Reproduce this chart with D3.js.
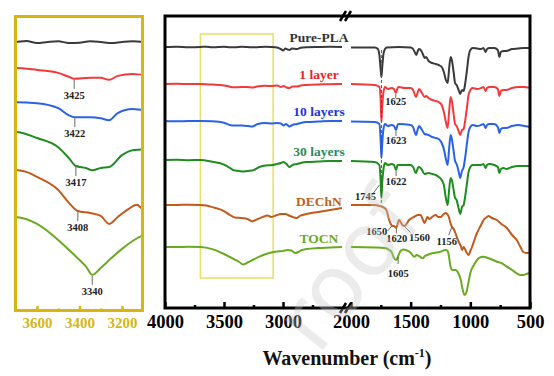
<!DOCTYPE html>
<html>
<head>
<meta charset="utf-8">
<script src="https://cdn.jsdelivr.net/npm/d3@7"></script>
<style>
  body { margin: 0; background: #fff; }
  text { font-family: "Times New Roman", "Liberation Serif", serif; font-weight: bold; }
</style>
</head>
<body>
<div id="chart"></div>
<script>
// series names, offsets (a.u.) and spectra as [wavenumber, relative transmittance]
const seriesNames = ["Pure-PLA", "1 layer", "10 layers", "30 layers", "DEChN", "TOCN"];
const mainOffsets = [261, 224, 187, 148, 103, 61];
const insetOffsets = [82.1, 74.2, 63.8, 54.7, 43.2, 28.9];

const purePLA = [
  [4000,0],[3900,0.3],[3800,-0.2],[3700,0],[3650,0.3],[3600,-0.3],[3550,0],[3500,0.2],[3450,-0.3],[3400,-0.2],
  [3350,0.2],[3300,0],[3250,-0.3],[3200,0],[3150,0.2],[3100,0],[3050,-0.5],[3020,-2],[2997,-3.5],[2980,-1.5],
  [2960,-2.5],[2945,-3],[2925,-1.5],[2880,-2],[2850,-0.8],[2800,-0.3],[2700,0],[2600,0.2],[2500,0],
  [2000,-0.5],[1900,-0.5],[1800,-0.5],[1775,-2],[1762,-8],[1752,-22],[1745,-30],[1738,-20],[1728,-7],[1715,-2],
  [1700,-0.5],[1600,0],[1500,-0.5],[1480,-2],[1462,-6],[1452,-8],[1440,-4],[1430,-2],[1410,-4],[1395,-8],
  [1383,-11],[1370,-10],[1350,-14],[1320,-16],[1290,-17],[1265,-18],[1240,-20],[1222,-25],[1205,-33],[1190,-36],
  [1178,-22],[1165,-10],[1155,-13],[1140,-25],[1128,-36],[1115,-38],[1095,-44],[1085,-47],[1070,-43],[1056,-44],
  [1045,-38],[1030,-25],[1015,-10],[1000,-3],[980,-1],[944,-1.5],[910,-2],[890,-1],[872,-5],[860,-2],
  [840,-1],[800,-1],[770,-3],[756,-10],[745,-5],[720,-4],[700,-4],[650,-2],[600,-1.5],[550,-1],[500,-1]
];

const layer1 = [
  [4000,0],[3900,0.2],[3800,0],[3700,0],[3600,-0.6],[3500,-1.5],[3450,-2.7],[3425,-3.3],[3350,-3],[3300,-3],
  [3260,-3.6],[3220,-2.4],[3150,-1.8],[3100,-2.1],[3050,-1.5],[3017,-3],[2995,-2],[2970,-3.5],[2945,-4],[2920,-2.5],
  [2880,-2.5],[2850,-1.5],[2800,-1],[2700,-0.5],[2600,-0.3],[2500,0],
  [2000,0],[1800,-1],[1762,-3],[1752,-15],[1745,-38],[1738,-22],[1728,-8],[1715,-3],[1690,-5],[1660,-4],
  [1640,-5],[1625,-9],[1610,-4],[1600,-3],[1550,-4],[1500,-4],[1480,-6],[1455,-13],[1440,-8],[1430,-5],
  [1410,-8],[1383,-13],[1370,-12],[1350,-14],[1320,-16],[1290,-17],[1265,-18],[1240,-21],[1222,-28],[1205,-38],
  [1190,-44],[1178,-28],[1165,-13],[1155,-17],[1140,-30],[1128,-40],[1115,-42],[1095,-48],[1085,-51],[1070,-46],
  [1056,-45],[1045,-38],[1030,-25],[1015,-11],[1000,-6],[980,-4],[944,-5],[910,-4],[890,-3],[872,-7],
  [860,-4],[840,-3],[800,-3],[770,-5],[756,-12],[745,-7],[720,-6],[700,-6],[650,-4],[600,-3],[550,-3],[500,-4]
];

const layer10 = [
  [4000,0],[3900,-0.3],[3800,0],[3700,0],[3600,-0.3],[3500,-1.8],[3450,-4],[3422,-4.6],[3350,-4.6],[3300,-4.9],
  [3260,-5.5],[3220,-3.3],[3150,-2.1],[3100,-2.4],[3050,-2],[3017,-2.5],[2995,-4.5],[2975,-3],[2945,-5.5],[2920,-4],
  [2880,-3],[2850,-2],[2800,-1],[2700,-0.5],[2600,0],[2500,0],
  [2000,-0.5],[1800,-1],[1762,-3],[1752,-18],[1745,-37],[1738,-22],[1728,-8],[1715,-3],[1690,-5],[1660,-4],
  [1640,-5],[1623,-9],[1610,-4],[1600,-3],[1500,-4],[1480,-6],[1455,-14],[1440,-8],[1430,-5],[1410,-8],
  [1383,-13],[1350,-14],[1320,-16],[1290,-17],[1265,-18],[1240,-22],[1222,-28],[1205,-38],[1190,-44],[1178,-28],
  [1165,-14],[1155,-18],[1140,-30],[1128,-40],[1115,-43],[1095,-52],[1085,-57],[1070,-50],[1056,-46],[1045,-38],
  [1030,-24],[1015,-11],[1000,-6],[980,-4],[944,-5],[910,-4],[890,-3],[872,-7],[860,-4],[840,-3],
  [800,-3],[770,-6],[756,-12],[745,-8],[720,-7],[700,-7],[650,-5],[600,-4],[550,-5],[500,-6]
];

const layer30 = [
  [4000,0],[3900,0.2],[3800,-0.2],[3700,0],[3600,-1.8],[3500,-4.6],[3450,-7.9],[3417,-10.3],[3370,-10.9],[3340,-11.6],
  [3300,-10.9],[3260,-10.6],[3200,-7],[3150,-5.5],[3100,-5.2],[3050,-4],[3017,-3],[2995,-2],[2970,-4],[2945,-7],
  [2920,-5],[2880,-4],[2850,-3],[2800,-2],[2700,-1.5],[2600,-1],[2500,-1],
  [2000,-1],[1800,-2],[1762,-5],[1752,-20],[1745,-38],[1738,-22],[1728,-9],[1715,-3],[1690,-5],[1660,-4],
  [1640,-5],[1622,-10],[1610,-5],[1600,-5],[1500,-5],[1480,-7],[1455,-13],[1440,-8],[1430,-7],[1410,-9],
  [1383,-14],[1350,-13],[1320,-14],[1290,-15],[1265,-17],[1240,-20],[1222,-25],[1205,-38],[1190,-45],[1178,-30],
  [1165,-18],[1155,-20],[1140,-30],[1128,-38],[1115,-40],[1095,-50],[1085,-54],[1070,-47],[1056,-45],[1045,-38],
  [1030,-25],[1015,-12],[1000,-7],[980,-5],[944,-5],[910,-5],[890,-4],[872,-8],[860,-5],[840,-4],
  [800,-5],[770,-7],[756,-13],[745,-9],[720,-8],[700,-9],[650,-7],[600,-6],[550,-6],[500,-6]
];

const dechn = [
  [4000,0],[3900,0],[3800,0.3],[3700,0],[3650,-0.6],[3600,-2.1],[3500,-6.1],[3450,-10],[3408,-12.5],[3350,-13.1],
  [3300,-14],[3260,-16.4],[3220,-14.3],[3170,-11.9],[3130,-10.6],[3100,-11.9],[3050,-10],[3017,-9],[2980,-9],[2950,-10.5],
  [2920,-12],[2885,-13],[2860,-11],[2800,-9],[2700,-7],[2600,-5],[2500,-3],
  [2000,0],[1800,0],[1760,-1],[1720,-3],[1700,-6],[1683,-14],[1667,-19],[1650,-21],[1639,-21],[1622,-23],
  [1597,-15],[1580,-18],[1569,-20],[1550,-21],[1530,-18],[1514,-15],[1490,-13],[1472,-12],[1440,-10],[1417,-10],
  [1400,-14],[1385,-18],[1375,-16],[1360,-12],[1345,-14],[1330,-13],[1310,-11],[1290,-10],[1270,-12],[1250,-12],
  [1230,-10],[1210,-8],[1194,-9],[1180,-12],[1167,-18],[1153,-22],[1140,-24],[1125,-28],[1110,-33],[1097,-37],
  [1080,-41],[1069,-45],[1056,-42],[1045,-44],[1030,-48],[1014,-50],[1000,-46],[986,-42],[960,-33],[944,-28],
  [910,-20],[889,-15],[860,-12],[847,-11],[820,-13],[778,-15],[740,-19],[694,-23],[650,-30],[611,-35],
  [580,-42],[556,-47],[530,-48],[514,-48],[500,-47]
];

const tocn = [
  [4000,0],[3900,0],[3800,0.2],[3700,0],[3600,-2.1],[3500,-7],[3450,-10],[3400,-13.1],[3370,-15],[3340,-17.6],
  [3300,-15.5],[3250,-12.5],[3200,-9.7],[3150,-7.3],[3100,-5.5],[3050,-4.5],[3000,-4],[2960,-3],[2930,-3.5],[2895,-6],
  [2870,-5],[2840,-3],[2800,-2],[2700,-1],[2600,-0.5],[2500,0],
  [2000,0],[1800,-0.5],[1720,-1],[1700,-1.5],[1680,-3],[1660,-5],[1640,-11],[1620,-13],[1605,-9],[1585,-4],
  [1560,-2.5],[1540,-3],[1500,-5.7],[1470,-9.7],[1450,-8],[1430,-9],[1400,-11.3],[1380,-9],[1361,-8],[1320,-6.3],
  [1250,-4.7],[1208,-3],[1190,-4],[1181,-8],[1165,-20],[1150,-23],[1125,-23],[1100,-26.3],[1080,-33],[1069,-39.7],
  [1050,-48],[1040,-47],[1028,-43],[1015,-35],[1000,-26],[970,-18],[944,-13],[910,-10],[889,-9.7],[847,-11.3],
  [810,-13],[778,-14.7],[740,-16],[694,-19.7],[650,-23],[611,-26.3],[580,-28],[556,-28],[530,-27],[514,-26.3],[500,-26]
];

const spectra = [purePLA, layer1, layer10, layer30, dechn, tocn];

const mainMajorTicks = [4000, 3500, 3000, 2000, 1500, 1000, 500];
const mainMinorTicks = [3750, 3250, 2750, 1750, 1250, 750];
const insetMajorTicks = [3600, 3400, 3200];
const insetMinorTicks = [3500, 3300];

// peak labels: inset (O-H region) and main plot
const insetPeakLabels = ["3425", "3422", "3417", "3408", "3340"];
const insetPeakSeries = [1, 2, 3, 4, 5];
const mainPeakLabels = ["1625", "1623", "1622", "1745", "1650", "1620", "1560", "1156", "1605"];
const mainPeakSeries = [1, 2, 3, 3, 4, 4, 4, 4, 5];

const lineColors = ["#3a3a3a", "#f23a3a", "#2a62e6", "#1f8c1f", "#c25a1a", "#6aaa22"];
const labelColors = ["#333333", "#ee2222", "#2233dd", "#2e8b57", "#c4601e", "#6aaa22"];
const gold = "#d6b614";

const W = 554, H = 376;
const svg = d3.select("#chart").append("svg").attr("width", W).attr("height", H);

const plot = { left: 165, right: 530, top: 16, bottom: 308 };
const xUpper = d3.scaleLinear().domain([4000, 2500]).range([165, 342]);
const xLower = d3.scaleLinear().domain([2000, 500]).range([351, 530]);
const yMain = d3.scaleLinear().domain([0, 292]).range([plot.bottom, plot.top]);
const xInset = d3.scaleLinear().domain([3700, 3100]).range([15.75, 143.25]);
const yInset = d3.scaleLinear().domain([0, 90]).range([312, 16]);
const insetZoom = 3.29; // inset magnifies the O-H region vertically

function interp(arr, wn) {
  for (let i = 0; i < arr.length - 1; i++) {
    const a = arr[i], b = arr[i + 1];
    if (wn <= a[0] && wn >= b[0]) {
      return a[1] + (b[1] - a[1]) * (a[0] - wn) / (a[0] - b[0]);
    }
  }
  return 0;
}

// ---------- main plot ----------
const mainG = svg.append("g");

// yellow box marking the inset range
mainG.append("rect")
  .attr("x", xUpper(3700)).attr("y", 34)
  .attr("width", xUpper(3100) - xUpper(3700) + 2).attr("height", 244)
  .attr("fill", "none").attr("stroke", "#e8e06a").attr("stroke-width", 1.6);

spectra.forEach((arr, i) => {
  const upper = arr.filter(d => d[0] >= 2500);
  const lower = arr.filter(d => d[0] <= 2000);
  const lineU = d3.line().x(d => xUpper(d[0])).y(d => yMain(mainOffsets[i] + d[1])).curve(d3.curveMonotoneX);
  const lineL = d3.line().x(d => xLower(d[0])).y(d => yMain(mainOffsets[i] + d[1])).curve(d3.curveMonotoneX);
  [lineU(upper), lineL(lower)].forEach(p => {
    mainG.append("path").attr("d", p)
      .attr("fill", "none").attr("stroke", lineColors[i]).attr("stroke-width", 2);
  });
  // series name
  mainG.append("text")
    .attr("x", 319)
    .attr("y", yMain(mainOffsets[i] + interp(arr, 2650)) - 5)
    .attr("text-anchor", "middle")
    .style("font-size", "13.5px")
    .attr("fill", labelColors[i])
    .text(seriesNames[i]);
});

// dashed line at the C=O band
mainG.append("line")
  .attr("x1", xLower(1745)).attr("x2", xLower(1745))
  .attr("y1", yMain(mainOffsets[0]) + 3).attr("y2", yMain(mainOffsets[4]) - 1)
  .attr("stroke", "#555").attr("stroke-width", 1).attr("stroke-dasharray", "3,2");

// main peak annotations: [leader x1,y1,x2,y2, text dx,dy] relative to curve point
const mainPeakLayout = [
  [0, 1, 0, 5, 0, 12],
  [0, 1, 0, 6, 0, 14],
  [0, 1, 0, 6, 0, 15],
  [-2, -13, -8, -5, -16, 2],
  [-1, 0, -5, 5, -16, 9],
  [0, 1, 0, 6, 0.5, 15],
  [1, 1, 7, 7, 16, 16],
  [0, 1, -3, 9, -5, 19],
  [0, 1, 0, 8, 0, 21]
];
mainPeakLabels.forEach((lab, k) => {
  const s = mainPeakSeries[k];
  const wn = +lab;
  const px = xLower(wn);
  const py = yMain(mainOffsets[s] + interp(spectra[s], wn));
  const L = mainPeakLayout[k];
  mainG.append("line")
    .attr("x1", px + L[0]).attr("y1", py + L[1])
    .attr("x2", px + L[2]).attr("y2", py + L[3])
    .attr("stroke", "#444").attr("stroke-width", 0.8);
  mainG.append("text")
    .attr("x", px + L[4]).attr("y", py + L[5])
    .attr("text-anchor", "middle")
    .style("font-size", "10.5px")
    .attr("fill", "#222")
    .text(lab);
});

// frame
mainG.append("rect")
  .attr("x", plot.left).attr("y", plot.top)
  .attr("width", plot.right - plot.left).attr("height", plot.bottom - plot.top)
  .attr("fill", "none").attr("stroke", "#000").attr("stroke-width", 3);

// x axes (ticks point inward)
const axisG = mainG.append("g").attr("transform", `translate(0,${plot.bottom})`);
[[xUpper, mainMajorTicks.filter(d => d >= 2500), mainMinorTicks.filter(d => d >= 2500)],
 [xLower, mainMajorTicks.filter(d => d <= 2000), mainMinorTicks.filter(d => d <= 2000)]].forEach(([sc, maj, min]) => {
  const gMaj = axisG.append("g")
    .call(d3.axisBottom(sc).tickValues(maj).tickSize(-6).tickPadding(7).tickFormat(d3.format("d")));
  gMaj.select(".domain").remove();
  gMaj.selectAll(".tick line").attr("stroke", "#000").attr("stroke-width", 2.5);
  gMaj.selectAll(".tick text")
    .style("font-family", '"Times New Roman","Liberation Serif",serif')
    .style("font-weight", "bold").style("font-size", "18.5px").attr("fill", "#000");
  const gMin = axisG.append("g")
    .call(d3.axisBottom(sc).tickValues(min).tickSize(-3).tickFormat(""));
  gMin.select(".domain").remove();
  gMin.selectAll(".tick line").attr("stroke", "#000").attr("stroke-width", 2.5);
});

// axis break marks
[plot.top, plot.bottom].forEach(yy => {
  [-3, 2].forEach(dx => {
    mainG.append("line")
      .attr("x1", 346 + dx - 3).attr("y1", yy + 5)
      .attr("x2", 346 + dx + 3).attr("y2", yy - 5)
      .attr("stroke", "#000").attr("stroke-width", 2.5);
  });
});

// axis title
const title = mainG.append("text")
  .attr("x", 347).attr("y", 365)
  .attr("text-anchor", "middle")
  .style("font-size", "20px")
  .attr("fill", "#111");
title.append("tspan").text("Wavenumber (cm");
title.append("tspan").attr("dy", -8).style("font-size", "12px").text("-1");
title.append("tspan").attr("dy", 8).text(")");

// ---------- inset ----------
const insetG = svg.append("g");
insetG.append("clipPath").attr("id", "insetClip")
  .append("rect").attr("x", 15).attr("y", 16).attr("width", 128).attr("height", 295);

const insetY = (s, v) => yInset(insetOffsets[s]) + (yMain(v) - yMain(0)) * insetZoom;

const curvesG = insetG.append("g").attr("clip-path", "url(#insetClip)");
spectra.forEach((arr, i) => {
  const pts = arr.filter(d => d[0] <= 3800 && d[0] >= 3000);
  curvesG.append("path")
    .attr("d", d3.line()
      .x(d => xInset(d[0]))
      .y(d => insetY(i, d[1]))
      .curve(d3.curveMonotoneX)(pts))
    .attr("fill", "none").attr("stroke", lineColors[i]).attr("stroke-width", 2);
});

insetPeakLabels.forEach((lab, k) => {
  const s = insetPeakSeries[k];
  const wn = +lab;
  const px = xInset(wn);
  const py = insetY(s, interp(spectra[s], wn));
  insetG.append("line")
    .attr("x1", px).attr("x2", px).attr("y1", py + 1).attr("y2", py + 10)
    .attr("stroke", "#444").attr("stroke-width", 0.8);
  insetG.append("text")
    .attr("x", px).attr("y", py + 20)
    .attr("text-anchor", "middle")
    .style("font-size", "10.5px")
    .attr("fill", "#222")
    .text(lab);
});

insetG.append("rect")
  .attr("x", 15.5).attr("y", 16.5).attr("width", 127).attr("height", 294)
  .attr("fill", "none").attr("stroke", gold).attr("stroke-width", 3);

const insetAxis = insetG.append("g").attr("transform", "translate(0,311)");
const ia = insetAxis.append("g")
  .call(d3.axisBottom(xInset).tickValues(insetMajorTicks).tickSize(-5).tickPadding(6).tickFormat(d3.format("d")));
ia.select(".domain").remove();
ia.selectAll(".tick line").attr("stroke", gold).attr("stroke-width", 2.5);
ia.selectAll(".tick text")
  .style("font-family", '"Times New Roman","Liberation Serif",serif')
  .style("font-weight", "bold").style("font-size", "15px").attr("fill", gold);
const ib = insetAxis.append("g")
  .call(d3.axisBottom(xInset).tickValues(insetMinorTicks).tickSize(-2.5).tickFormat(""));
ib.select(".domain").remove();
ib.selectAll(".tick line").attr("stroke", gold).attr("stroke-width", 2.5);

// watermark fragment
svg.append("text")
  .attr("transform", "translate(318,356) rotate(-52)")
  .style("font-family", "'DejaVu Sans', sans-serif")
  .style("font-weight", "normal")
  .style("font-size", "88px")
  .attr("fill", "#c8c8c8")
  .attr("opacity", 0.35)
  .text("roof");
</script>
</body>
</html>
